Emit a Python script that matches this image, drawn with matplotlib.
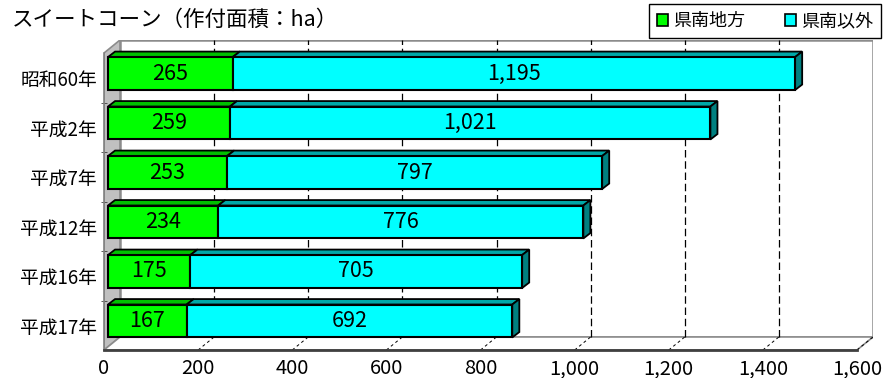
import matplotlib
matplotlib.use("Agg")
import matplotlib.pyplot as plt
from matplotlib.patches import Polygon, Patch

plt.rcParams['font.family'] = ['Noto Sans CJK JP', 'DejaVu Sans']

# data (top row first)
categories = ["昭和60年", "平成2年", "平成7年", "平成12年", "平成16年", "平成17年"]
kennan = [265, 259, 253, 234, 175, 167]
other = [1195, 1021, 797, 776, 705, 692]
series_names = ["県南地方", "県南以外"]
xticks = list(range(0, 1601, 200))

# pseudo-3D geometry (data units)
XMAX = 1600
DX, DY = 34, 0.263       # depth of the back wall
BX, BY = 8.5, 0.086      # bar front face offset
BDX, BDY = 15, 0.11      # bar depth
BH = 0.666

front_cols = ["#00FF00", "#00FFFF"]
top_cols = ["#00C000", "#00A8A8"]
side_cols = ["#009000", "#008080"]
wall_gray = "#8C8C8C"

fig = plt.figure(figsize=(8.86, 3.78), dpi=100)
ax = fig.add_axes([104 / 886, 28 / 378, 769 / 886, 310 / 378])
ax.set_xlim(0, XMAX + DX)
ax.set_ylim(-0.5, len(categories) - 0.5 + DY)

ytop = len(categories) - 0.5

# back wall, left wall, floor
ax.add_patch(Polygon([(DX, -0.5 + DY), (XMAX + DX, -0.5 + DY), (XMAX + DX, ytop + DY), (DX, ytop + DY)],
                     closed=True, facecolor="white", edgecolor=wall_gray, lw=1.8, zorder=0))
ax.add_patch(Polygon([(0, -0.5), (DX, -0.5 + DY), (DX, ytop + DY), (0, ytop)],
                     closed=True, facecolor="#C0C0C0", edgecolor=wall_gray, lw=1.2, zorder=0.5))
ax.add_patch(Polygon([(0, -0.5), (XMAX, -0.5), (XMAX + DX, -0.5 + DY), (DX, -0.5 + DY)],
                     closed=True, facecolor="white", edgecolor=wall_gray, lw=1.2, zorder=0.5))

# gridlines on back wall and floor
for v in xticks[1:-1]:
    ax.plot([v + DX, v + DX], [-0.5 + DY, ytop + DY], color="black", lw=0.9,
            dashes=(6, 3), zorder=1)
for v in xticks[1:]:
    ax.plot([v, v + DX], [-0.5, -0.5 + DY], color="black", lw=0.7, dashes=(3, 3), zorder=1)

# stacked bars with 3D faces
for i, cat in enumerate(categories):
    p = len(categories) - 1 - i
    vals = [kennan[i], other[i]]
    left = 0
    for k, v in enumerate(vals):
        x0 = BX + left
        x1 = x0 + v
        yt = p + BY + BH / 2
        yb = p + BY - BH / 2
        ax.add_patch(Polygon([(x0, yt), (x1, yt), (x1 + BDX, yt + BDY), (x0 + BDX, yt + BDY)],
                             closed=True, facecolor=top_cols[k], edgecolor="black", lw=1.3, zorder=3))
        if k == len(vals) - 1:
            ax.add_patch(Polygon([(x1, yb), (x1, yt), (x1 + BDX, yt + BDY), (x1 + BDX, yb + BDY)],
                                 closed=True, facecolor=side_cols[k], edgecolor="black", lw=1.3, zorder=3))
        ax.barh(p + BY, v, left=x0, height=BH, color=front_cols[k], edgecolor="black",
                linewidth=1.5, zorder=4)
        ax.text(x0 + v / 2, p + BY, f"{v:,}", ha="center", va="center", fontsize=15.5, zorder=5)
        left += v

# axes
for s in ["top", "right"]:
    ax.spines[s].set_visible(False)
ax.spines["bottom"].set_bounds(0, XMAX)
ax.spines["bottom"].set_color("#404040")
ax.spines["bottom"].set_linewidth(2)
ax.spines["left"].set_bounds(-0.5, ytop)
ax.spines["left"].set_color("#808080")
ax.spines["left"].set_linewidth(1.2)

ax.set_xticks(xticks)
ax.set_xticklabels([f"{v:,}" for v in xticks], fontsize=14.5)
ax.tick_params(axis="x", length=0, pad=6)
ax.set_yticks(range(len(categories)))
ax.set_yticklabels(categories[::-1], fontsize=13.5)
ax.tick_params(axis="y", length=0, pad=5)
ax.set_yticks([k + 0.5 for k in range(len(categories) - 1)], minor=True)
ax.tick_params(axis="y", which="minor", length=5, direction="inout", color="#404040")

fig.text(12 / 886, 1 - 20 / 378, "スイートコーン（作付面積：ha）", fontsize=15.5, va="center", ha="left")

handles = [Patch(facecolor=c, edgecolor="black", lw=1.2) for c in front_cols]
leg = fig.legend(handles, series_names, loc="upper right", bbox_to_anchor=(881 / 886, 1 - 4 / 378),
                 ncol=2, fontsize=13, frameon=True, fancybox=False, framealpha=1,
                 handlelength=0.65, handleheight=0.65, handletextpad=0.25, columnspacing=2.2,
                 borderpad=0.45, borderaxespad=0)
leg.get_frame().set_edgecolor("black")
leg.get_frame().set_linewidth(1.0)

fig.savefig("out.png", dpi=100)
